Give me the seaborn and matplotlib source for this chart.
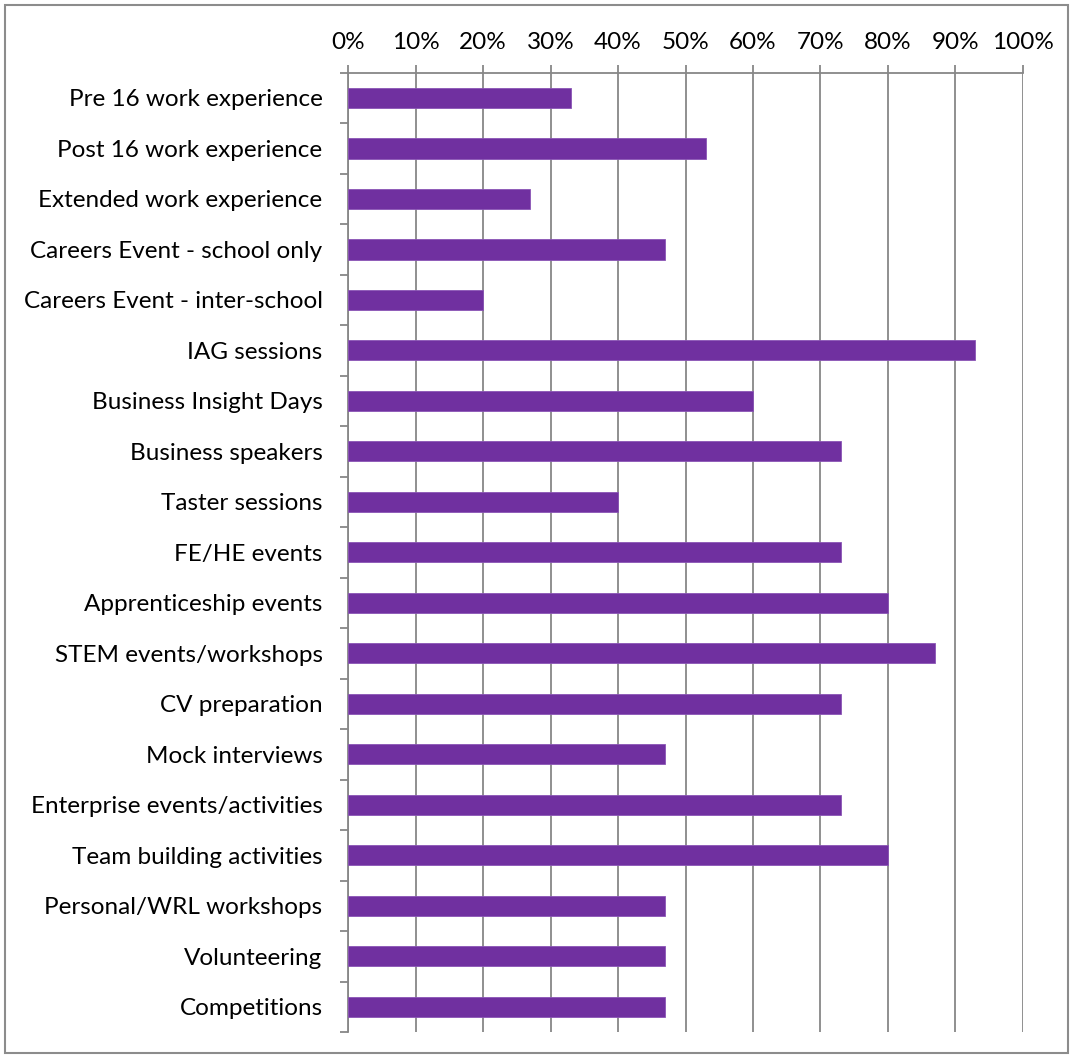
import matplotlib
matplotlib.use("Agg")
import matplotlib.pyplot as plt
from matplotlib.patches import Rectangle
from matplotlib.ticker import FixedLocator, PercentFormatter
import numpy as np
import pandas as pd
import seaborn as sns

activities = [
    "Pre 16 work experience",
    "Post 16 work experience",
    "Extended work experience",
    "Careers Event - school only",
    "Careers Event - inter-school",
    "IAG sessions",
    "Business Insight Days",
    "Business speakers",
    "Taster sessions",
    "FE/HE events",
    "Apprenticeship events",
    "STEM events/workshops",
    "CV preparation",
    "Mock interviews",
    "Enterprise events/activities",
    "Team building activities",
    "Personal/WRL workshops",
    "Volunteering",
    "Competitions",
]
share = [33, 53, 27, 47, 20, 93, 60, 73, 40, 73, 80, 87, 73, 47, 73, 80, 47, 47, 47]
x_ticks = [0, 10, 20, 30, 40, 50, 60, 70, 80, 90, 100]

df = pd.DataFrame({"activity": activities, "share": share})

sns.set_theme(style="white")
plt.rcParams["font.family"] = ["Lato", "DejaVu Sans"]

grey = "#878787"
purple = "#7030A0"

fig = plt.figure(figsize=(10.71, 10.56), dpi=100)
ax = fig.add_axes([348.3 / 1071, 1 - 1032 / 1056, (1022.7 - 348.3) / 1071, (1032 - 72.7) / 1056])

sns.barplot(data=df, y="activity", x="share", orient="h", color=purple,
            width=0.4, edgecolor="#8a55b5", linewidth=0.6, saturation=1, ax=ax, zorder=3)

ax.set_xlim(0, 100)
ax.set_ylim(len(activities) - 0.5, -0.5)
ax.set_xlabel("")
ax.set_ylabel("")

# x axis on top with percent labels
ax.xaxis.set_major_locator(FixedLocator(x_ticks))
ax.xaxis.set_major_formatter(PercentFormatter(100, decimals=0))
ax.xaxis.tick_top()
ax.tick_params(axis="x", which="major", top=True, bottom=False, direction="out",
               length=6, width=1.3, color=grey, labelsize=17.5, pad=8.5, labelcolor="black")
ax.grid(axis="x", color=grey, linewidth=1.3, zorder=0)
ax.grid(axis="y", visible=False)

# category labels, with small ticks at the boundaries between rows
ax.tick_params(axis="y", which="major", left=False, length=0, pad=18.5, labelsize=17.5, labelcolor="black")
ax.yaxis.set_minor_locator(FixedLocator(np.arange(-0.5, len(activities), 1.0)))
ax.tick_params(axis="y", which="minor", left=True, direction="out", length=6, width=1.3, color=grey)

for side in ["right", "bottom"]:
    ax.spines[side].set_visible(False)
for side in ["top", "left"]:
    ax.spines[side].set_visible(True)
    ax.spines[side].set_color(grey)
    ax.spines[side].set_linewidth(1.3)

# outer frame of the chart area
fig.patches.append(Rectangle((5 / 1071, 3 / 1056), 1063 / 1071, 1048 / 1056,
                             transform=fig.transFigure, fill=False,
                             edgecolor="#8c8c8c", linewidth=1.5))

fig.savefig("out.png", dpi=100)
